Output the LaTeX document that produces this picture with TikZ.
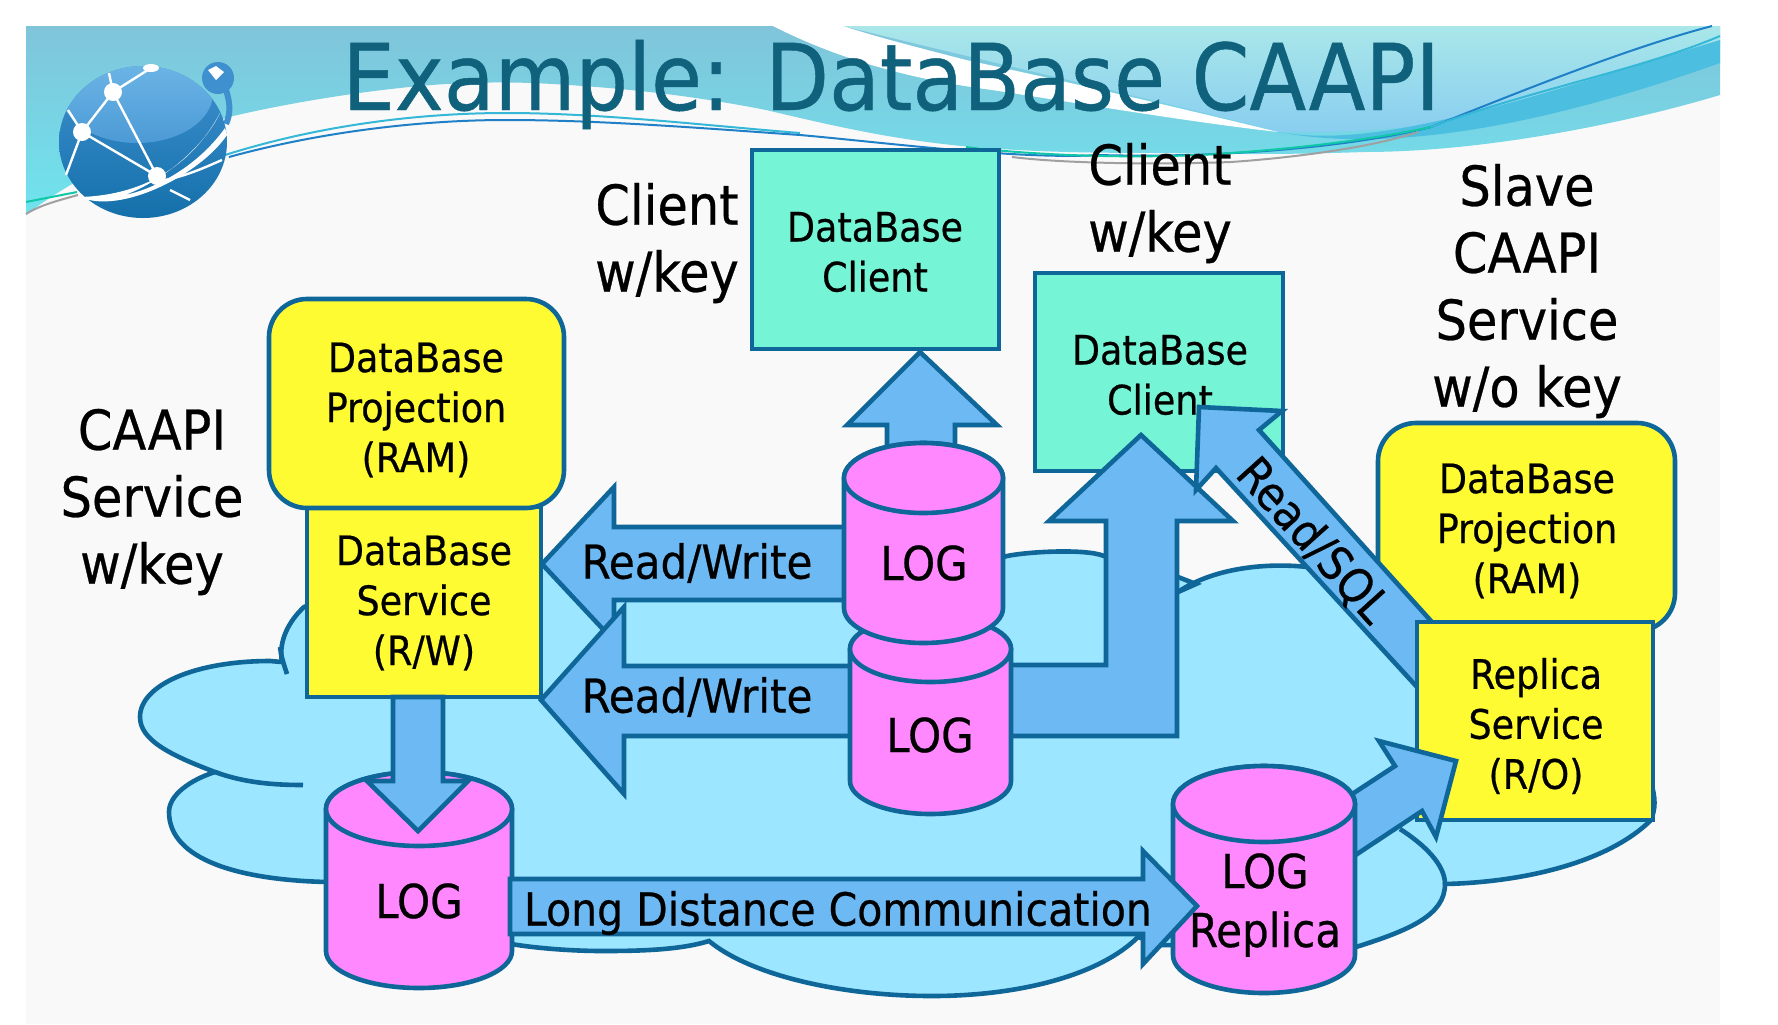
\documentclass[tikz,border=0pt]{standalone}
\usepackage{fontspec}
\setmainfont[FakeBold=0.5]{DejaVu Sans Condensed}
\definecolor{edge}{HTML}{0F6699}
\definecolor{cloudc}{HTML}{9DE6FF}
\definecolor{arrowc}{HTML}{6DB9F3}
\definecolor{pinkc}{HTML}{FF88FF}
\definecolor{yellowc}{HTML}{FFFB33}
\definecolor{tealc}{HTML}{75F5D5}
\definecolor{titlec}{HTML}{0F617C}
\definecolor{slidec}{HTML}{F9F9F9}
\definecolor{hdrtop}{HTML}{80C4DA}
\definecolor{hdrbot}{HTML}{6FE4EE}
\definecolor{hdrlt}{HTML}{A9E7E9}
\definecolor{hdrlb}{HTML}{88CDF0}
\definecolor{bandc}{HTML}{4CBFE0}
\definecolor{hdrline1}{HTML}{35B8D8}
\definecolor{hdrline2}{HTML}{1F80C8}
\definecolor{hdrgrey}{HTML}{A0A0A0}
\definecolor{hdrgreen}{HTML}{10C8A8}
\definecolor{globet}{HTML}{3F90CE}
\definecolor{globeb}{HTML}{1470AA}
\definecolor{capt}{HTML}{74BBEA}
\definecolor{capb}{HTML}{4C9AD6}
\tikzset{
  stroke/.style={draw=edge,line width=2.3pt,line join=miter},
  blockarrow/.style={stroke,fill=arrowc},
  cloudshape/.style={stroke,fill=cloudc},
  clientbox/.style={stroke,fill=tealc,outer sep=0pt},
  svcbox/.style={stroke,fill=yellowc,outer sep=0pt},
  projbox/.style={stroke,fill=yellowc,rounded corners=19pt,outer sep=0pt},
  boxtext/.style={font=\fontsize{20.3}{25}\selectfont,align=center,inner sep=0pt},
  bigtext/.style={font=\fontsize{27.5}{33.5}\selectfont,align=center,inner sep=0pt},
  logtext/.style={font=\fontsize{23.4}{29.5}\selectfont,align=center,inner sep=0pt},
  longtext/.style={font=\fontsize{22.8}{29.5}\selectfont,inner sep=0pt},
  titletext/.style={font=\fontsize{46.1}{50}\selectfont,text=titlec,inner sep=0pt},
}
% #1 name, #2 left, #3 right, #4 top centre y, #5 bottom centre y, #6 ry
\newcommand{\dbcyl}[6]{%
  \path[stroke,fill=pinkc] (#2,#4) -- (#2,#5)
    arc[start angle=180,end angle=360,x radius={(#3-#2)*0.25pt},y radius={#6*0.5pt}]
    -- (#3,#4) arc[start angle=0,end angle=180,x radius={(#3-#2)*0.25pt},y radius={#6*0.5pt}] -- cycle;
  \path[stroke,fill=pinkc] ({(#2+#3)/2},#4) ellipse[x radius={(#3-#2)*0.25pt},y radius={#6*0.5pt}];
  \coordinate (#1) at ({(#2+#3)/2},{(#4+#5)/2});
}
\begin{document}
\begin{tikzpicture}[x=0.5pt,y=-0.5pt]
\useasboundingbox (0,0) rectangle (1778,1024);
\fill[white] (0,0) rectangle (1778,1024);
\fill[slidec] (26,26) rectangle (1720,1024);
% header base
\path[top color=hdrtop,bottom color=hdrbot] (26,26) -- (1720,26) -- (1720,95)
  .. controls (1620,125) and (1480,152) .. (1364,152)
  .. controls (1280,155) and (1220,154) .. (1165,153)
  .. controls (1090,153) and (1040,152) .. (986,148)
  .. controls (900,142) and (830,125) .. (766,110)
  .. controls (700,97) and (640,90) .. (583,86)
  .. controls (530,82) and (500,82) .. (468,83)
  .. controls (400,85) and (300,100) .. (229,117)
  .. controls (150,140) and (70,180) .. (26,215) -- cycle;
% lighter right part
\path[top color=hdrlt,bottom color=hdrlb] (843,26) -- (1720,26) -- (1720,45)
  .. controls (1600,100) and (1450,135) .. (1278,132)
  .. controls (1180,105) and (980,60) .. (843,26) -- cycle;
% white wedge
\fill[white] (773,26) .. controls (830,55) and (900,78) .. (992,90)
  .. controls (1090,105) and (1190,122) .. (1278,132)
  .. controls (1180,108) and (1060,80) .. (966,60)
  .. controls (920,48) and (880,38) .. (843,26) -- cycle;
% dark band
\path[fill=bandc] (1278,132) .. controls (1380,150) and (1520,100) .. (1720,40)
  -- (1720,63) .. controls (1560,120) and (1400,155) .. (1278,132) -- cycle;
% thin lines
\draw[line width=1pt,color=hdrline1] (225,155) .. controls (320,125) and (420,113) .. (506,113)
  .. controls (600,113) and (700,125) .. (800,133);
\draw[line width=1pt,color=hdrline2] (229,157) .. controls (320,132) and (420,120) .. (506,120)
  .. controls (600,120) and (700,128) .. (800,135);
\draw[line width=1pt,color=hdrline2] (800,135) .. controls (880,142) and (1020,160) .. (1099,155)
  .. controls (1200,158) and (1340,150) .. (1431,127)
  .. controls (1500,100) and (1620,50) .. (1712,26);
\draw[line width=1pt,color=hdrline1] (1431,127) .. controls (1530,90) and (1640,70) .. (1720,36);
\draw[line width=1pt,color=hdrgrey] (1012,157) .. controls (1060,163) and (1150,165) .. (1231,162)
  .. controls (1290,158) and (1370,148) .. (1418,132);
\draw[line width=1pt,color=hdrgreen] (966,147) .. controls (1030,155) and (1140,160) .. (1231,153)
  .. controls (1300,148) and (1370,140) .. (1431,127);
\draw[line width=1pt,color=hdrgreen] (26,202) -- (77,192);
\draw[line width=1pt,color=hdrgrey] (26,214) .. controls (40,205) and (60,200) .. (78,195);
% globe
\path[draw=globet,line width=3pt] (226,90) .. controls (231,105) and (230,115) .. (226,124);
\path[fill=globet] (218,78) circle[radius=8pt];
\fill[white] (208,70) -- (216,66) -- (224,72) -- (216,80) -- cycle;
\path[top color=globet,bottom color=globeb] (143,142) ellipse[x radius=42pt,y radius=38pt];
\begin{scope}
  \clip (143,142) ellipse[x radius=42pt,y radius=38pt];
  \path[top color=capt,bottom color=capb] (137,93) ellipse[x radius=38pt,y radius=25pt];
\end{scope}
\draw[white,line width=1.2pt] (113,92) -- (82,132) -- (157,176) -- (113,92) -- (151,68);
\draw[white,line width=1.2pt] (82,132) -- (68,110) (82,132) -- (66,175) (113,92) -- (109,73);
\draw[white,line width=1.2pt] (170,190) -- (190,200) (165,180) .. controls (190,175) and (210,165) .. (222,160);
\fill[white] (113,92) circle[radius=4.5pt] (82,132) circle[radius=4.5pt] (157,176) circle[radius=4.5pt];
\fill[white] (151,68) ellipse[x radius=4pt,y radius=2pt];
\fill[white] (220,113) .. controls (195,160) and (150,195) .. (80,197)
  .. controls (120,215) and (200,175) .. (227,135) -- (225,128)
  .. controls (195,170) and (150,190) .. (125,195)
  .. controls (165,180) and (205,145) .. (220,113) -- cycle;
% title
\node[titletext,anchor=base west] (title) at (342,110) {Example: DataBase CAAPI};
% cloud
\path[cloudshape] (304,607) .. controls (400,570) and (500,565) .. (545,565) -- (620,545) -- (850,545) -- (1003,557)
  .. controls (1020,552) and (1085,548) .. (1104,556) -- (1178,577) -- (1196,584) -- (1178,592)
  .. controls (1210,570) and (1260,562) .. (1308,567) -- (1400,600) -- (1640,640) -- (1650,780)
  .. controls (1656,797) and (1656,810) .. (1650,821)
  .. controls (1610,860) and (1530,882) .. (1445,884)
  .. controls (1445,915) and (1410,930) .. (1356,947) -- (1161,945) -- (1138,937)
  .. controls (1100,975) and (1020,996) .. (932,996)
  .. controls (840,996) and (750,975) .. (709,941)
  .. controls (680,950) and (640,951) .. (603,951)
  .. controls (570,951) and (535,948) .. (511,944) -- (327,882)
  .. controls (240,880) and (169,860) .. (169,812)
  .. controls (169,795) and (190,780) .. (215,772)
  .. controls (170,755) and (140,740) .. (140,717)
  .. controls (140,685) and (195,661) .. (270,661)
  -- (282,662) .. controls (278,640) and (290,620) .. (304,607) -- cycle;
\draw[stroke] (215,772) .. controls (245,783) and (275,785) .. (303,785);
\draw[stroke] (287,674) .. controls (283,662) and (281,655) .. (280,647);
\draw[stroke] (1445,884) .. controls (1445,865) and (1425,845) .. (1400,829);
% boxes
\node[clientbox,anchor=north west,minimum width=123.5pt,minimum height=99.5pt] (client1) at (752,150) {};
\node[clientbox,anchor=north west,minimum width=124pt,minimum height=99pt] (client2) at (1035,273) {};
\node[boxtext] (client1t) at (875,252) {DataBase\\Client};
\node[boxtext] (client2t) at (1160,375) {DataBase\\Client};
% arrows behind cylinders
\path[blockarrow] (887,470) -- (887,425) -- (847,425) -- (920,352) -- (997,425) -- (955,425) -- (955,470) -- cycle;
\path[blockarrow] (860,527) -- (614,527) -- (614,487) -- (542,564) -- (614,641) -- (614,600) -- (860,600) -- cycle;
\path[blockarrow] (860,666) -- (624,666) -- (624,607) -- (541,700) -- (624,794) -- (624,736) -- (860,736) -- cycle;
% projection and service
\node[svcbox,anchor=north west,minimum width=117pt,minimum height=95pt] (service) at (307,507) {};
\node[projbox,anchor=north west,minimum width=147.5pt,minimum height=104.5pt] (proj1) at (269,299) {};
\node[boxtext] (proj1t) at (416,410) {DataBase\\Projection\\(RAM)};
\node[boxtext] (servicet) at (424,603) {DataBase\\Service\\(R/W)};
\node[projbox,anchor=north west,minimum width=148.5pt,minimum height=104pt] (proj2) at (1378,423) {};
\node[boxtext] (proj2t) at (1527,531) {DataBase\\Projection\\(RAM)};
% big up arrow
\path[blockarrow] (1000,665) -- (1106,665) -- (1106,521) -- (1049,521) -- (1141,435) -- (1233,521) -- (1177,521) -- (1177,736) -- (1000,736) -- cycle;
% Read/SQL arrow
\path[blockarrow] (1199,407) -- (1282,411) -- (1259,430) -- (1431,621) -- (1417,687) -- (1216,468) -- (1196,490) -- cycle;
\node[logtext,rotate=-48] (sqlt) at (1313,541) {Read/SQL};
% replica service
\node[svcbox,anchor=north west,minimum width=118pt,minimum height=99pt] (replica) at (1417,622) {};
\node[boxtext] (replicat) at (1536,726) {Replica\\Service\\(R/O)};
% replica arrow
\path[blockarrow] (1456,761) -- (1379,741) -- (1395,766) -- (1340,802) -- (1345,862) -- (1422,811) -- (1436,837) -- cycle;
% cylinders
\dbcyl{log2}{850}{1011}{649}{781}{33}
\dbcyl{log1}{844}{1003}{478}{608}{35}
\dbcyl{log3}{326}{512}{809}{951}{37}
\dbcyl{log4}{1173}{1355}{804}{955}{38}
\node[logtext] (log1t) at (924,563) {LOG};
\node[logtext] (log2t) at (930,735) {LOG};
\node[logtext] (log3t) at (419,901) {LOG};
\node[logtext] (log4t) at (1265,905) {LOG\\Replica};
% down arrow
\path[blockarrow] (393,697) -- (393,781) -- (367,781) -- (418,831) -- (468,781) -- (443,781) -- (443,697) -- cycle;
% long distance arrow
\path[blockarrow] (510,879) -- (1143,879) -- (1143,851) -- (1197,906) -- (1143,964) -- (1143,934) -- (510,934) -- cycle;
\node[longtext] (longt) at (838,913) {Long Distance Communication};
\node[logtext] (rw1) at (697,563) {Read/Write};
\node[logtext] (rw2) at (697,697) {Read/Write};
% outer labels
\node[bigtext] (l1) at (667,243) {Client\\w/key};
\node[bigtext] (l2) at (1160,203) {Client\\w/key};
\node[bigtext] (l3) at (1527,291) {Slave\\CAAPI\\Service\\w/o key};
\node[bigtext] (l4) at (152,502) {CAAPI\\Service\\w/key};
\end{tikzpicture}
\end{document}
